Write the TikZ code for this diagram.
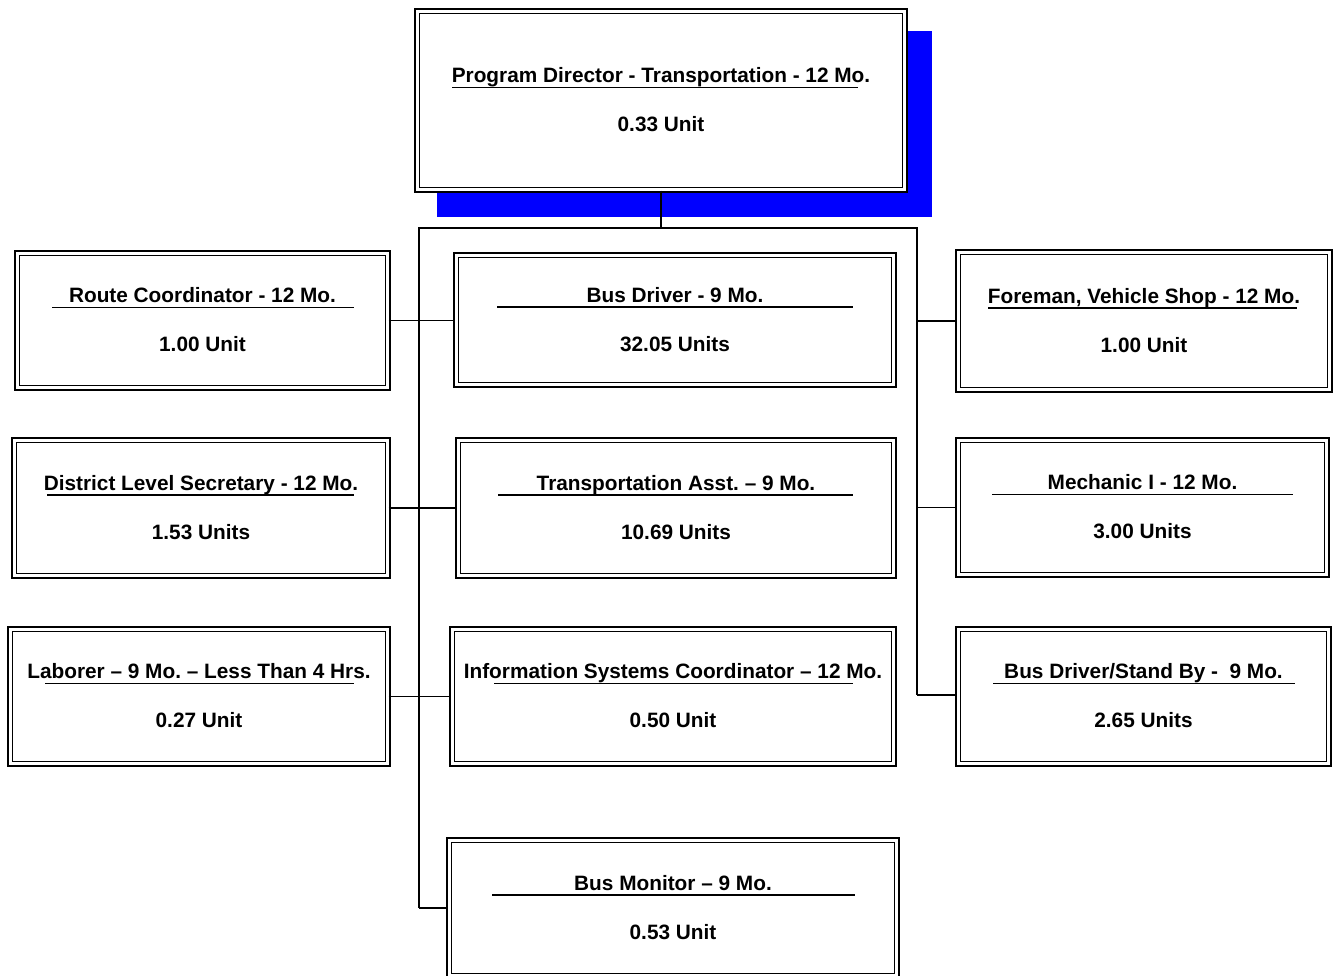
\documentclass[tikz,border=0pt]{standalone}
\usepackage{fontspec}
\setmainfont{Liberation Sans}[BoldFont={Liberation Sans Bold}]
\newfontfamily\lsbold{Liberation Sans Bold}
\frenchspacing
\tikzset{
  orgbox/.style={draw, double, line width=1.6pt, double distance=3pt, fill=white, inner sep=0pt, rectangle},
  ttl/.style={font=\lsbold\fontsize{20.8}{24}\selectfont, anchor=base, inner sep=0pt},
  link/.style={line width=1.8pt},
  trunk/.style={line width=2.8pt},
  uline/.style={line width=1.6pt}
}
% name, cx, cy, outer w, outer h, title, units, underline x1, underline x2
\newcommand\orgbox[9]{%
  \node[orgbox, minimum width={(#4-6.2)*1pt}, minimum height={(#5-6.2)*1pt}] (#1) at (#2,#3) {};
  \node[ttl] (#1-t) at ([yshift=18pt]#1.center) {#6};
  \node[ttl] (#1-u) at ([yshift=-31pt]#1.center) {#7};
  \draw[uline] ({#8},{#3-13}) -- ({#9},{#3-13});
}
\begin{document}
\begin{tikzpicture}[x=1pt,y=-1pt]
\useasboundingbox (0,0) rectangle (1333,975);
% shadow of top box
\fill[blue] (437,31) rectangle (932,217);
\orgbox{top}{661}{100.5}{494}{185}{Program Director - Transportation - 12 Mo.}{0.33 Unit}{452}{858}
\orgbox{rc}{202.5}{320.5}{377}{141}{Route Coordinator - 12 Mo.}{1.00 Unit}{52}{354}
\orgbox{bd}{675}{320}{444}{136}{Bus Driver - 9 Mo.}{32.05 Units}{497}{853}
\orgbox{fm}{1144}{321}{378}{144}{Foreman, Vehicle Shop - 12 Mo.}{1.00 Unit}{988}{1297}
\orgbox{dls}{201}{508}{380}{142}{District Level Secretary - 12 Mo.}{1.53 Units}{47}{354}
\orgbox{ta}{676}{508}{442}{142}{Transportation Asst. – 9 Mo.}{10.69 Units}{498}{853}
\orgbox{mi}{1142.5}{507.5}{375}{141}{Mechanic I - 12 Mo.}{3.00 Units}{992}{1293}
\orgbox{lab}{199}{696.5}{384}{141}{Laborer – 9 Mo. – Less Than 4 Hrs.}{0.27 Unit}{45}{354}
\orgbox{isc}{673}{696.5}{448}{141}{Information Systems Coordinator – 12 Mo.}{0.50 Unit}{494}{853}
\orgbox{bdsb}{1143.5}{696.5}{377}{141}{Bus Driver/Stand By -\ \ 9 Mo.}{2.65 Units}{993}{1295}
\orgbox{bm}{673}{908}{454}{142}{Bus Monitor – 9 Mo.}{0.53 Unit}{492}{855}
% connectors
\coordinate (hub) at (661,228);
\coordinate (lt) at (419,228);
\coordinate (rt) at (917,228);
\coordinate (lb) at (419,908);
\coordinate (rb) at (917,695);
\draw[trunk] (top.south) -- (hub);
\draw[trunk, line cap=rect] (lt) -- (rt);
\draw[trunk] (lt) -- (lb);
\draw[trunk] (rt) -- (rb);
\draw[link] (rc.east) -- (rc.east -| bd.west);
\draw[link] (dls.east) -- (dls.east -| ta.west);
\draw[link] (lab.east) -- (lab.east -| isc.west);
\draw[link] (lb) -- (bm.west);
\draw[link] (fm.west -| rt) -- (fm.west);
\draw[link] (mi.west -| rt) -- (mi.west);
\draw[link] (rb -| rt) -- (rb -| bdsb.west);
\end{tikzpicture}
\end{document}
